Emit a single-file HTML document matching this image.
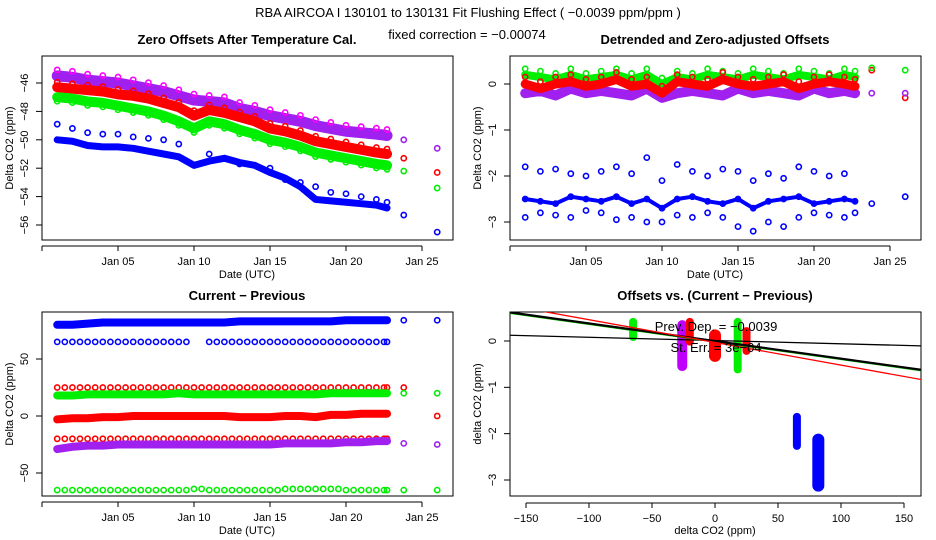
<!DOCTYPE html>
<html><head><meta charset="utf-8"><style>
html,body{margin:0;padding:0;background:#fff}
svg{display:block;font-family:"Liberation Sans",sans-serif}
</style></head><body>
<svg id="c" width="936" height="540" viewBox="0 0 936 540">
<rect width="936" height="540" fill="#fff"/>
<text x="468" y="17" text-anchor="middle" font-size="13">RBA   AIRCOA I   130101 to 130131   Fit Flushing Effect ( −0.0039 ppm/ppm )</text>
<text x="467" y="39" text-anchor="middle" font-size="13">fixed correction = −0.00074</text>
</svg>
<script>
const days=[1,2,3,4,5,6,7,8,9,10,11,12,13,14,15,16,17,18,19,20,21,22,22.7];
const extraDays=[23.8,26];
// Panel 1
const p1Magenta=[-45.5,-45.6,-45.8,-45.9,-46.0,-46.2,-46.4,-46.6,-46.9,-47.2,-47.3,-47.4,-47.8,-48.0,-48.3,-48.5,-48.7,-49.0,-49.2,-49.4,-49.5,-49.6,-49.7];
const p1Red=[-46.3,-46.4,-46.5,-46.6,-46.8,-46.9,-47.1,-47.4,-47.7,-48.3,-47.9,-48.1,-48.4,-48.7,-49.2,-49.4,-49.7,-50.1,-50.3,-50.5,-50.7,-50.9,-51.0];
const p1Green=[-47.0,-47.1,-47.3,-47.4,-47.6,-47.8,-48.0,-48.3,-48.7,-49.2,-48.7,-48.9,-49.3,-49.6,-50.0,-50.2,-50.5,-50.9,-51.1,-51.3,-51.5,-51.7,-51.8];
const p1BlueLow=[-50.0,-50.1,-50.4,-50.5,-50.5,-50.6,-50.8,-51.0,-51.2,-51.8,-51.5,-51.3,-51.6,-51.8,-52.3,-52.7,-53.3,-54.2,-54.3,-54.4,-54.5,-54.6,-54.8];
const p1BlueHigh=[-48.9,-49.2,-49.5,-49.6,-49.6,-49.8,-49.9,-50.0,-50.3,null,-51.0,-51.3,-51.7,-51.8,-52.0,-52.8,-53.0,-53.3,-53.7,-53.8,-54.0,-54.2,-54.4];
const p1ExtraMagenta=[-50.0,-50.6];
const p1ExtraRed=[-51.3,-52.3];
const p1ExtraGreen=[-52.2,-53.4];
const p1ExtraBlue=[-55.3,-56.5];
// Panel 2
const p2Red=[0.0,-0.1,0.0,0.05,-0.05,0.0,0.1,-0.05,0.0,-0.2,0.05,0.0,-0.05,0.1,0.0,-0.05,0.0,0.05,-0.1,0.0,0.05,0.0,-0.05];
const p2Green=[0.2,0.15,0.1,0.2,0.1,0.15,0.2,0.1,0.2,0.0,0.15,0.1,0.2,0.15,0.1,0.2,0.15,0.1,0.2,0.15,0.1,0.2,0.15];
const p2Magenta=[-0.2,-0.15,-0.25,-0.1,-0.2,-0.15,-0.2,-0.25,-0.1,-0.3,-0.2,-0.15,-0.2,-0.25,-0.1,-0.2,-0.15,-0.2,-0.25,-0.1,-0.2,-0.15,-0.2];
const p2Blue=[-2.5,-2.55,-2.6,-2.45,-2.5,-2.55,-2.45,-2.6,-2.5,-2.7,-2.5,-2.45,-2.55,-2.6,-2.5,-2.7,-2.55,-2.5,-2.45,-2.6,-2.55,-2.5,-2.55];
const p2BlueHigh=[-1.8,-1.9,-1.85,-1.95,-2.0,-1.9,-1.8,-1.95,-1.6,-2.1,-1.75,-1.9,-2.0,-1.85,-1.9,-2.1,-1.95,-2.05,-1.8,-1.9,-2.0,-1.95,null];
const p2BlueLow=[-2.9,-2.8,-2.85,-2.9,-2.75,-2.8,-2.95,-2.9,-3.0,-3.0,-2.85,-2.9,-2.8,-2.9,-3.1,-3.2,-3.0,-3.1,-2.9,-2.8,-2.85,-2.9,-2.8];
const p2ExtraRed=[0.3,-0.3];
const p2ExtraGreen=[0.35,0.3];
const p2ExtraMagenta=[-0.2,-0.2];
const p2ExtraBlue=[-2.6,-2.45];
// Panel 3
const p3Blue82=[80,80,81,82,82,82,82,82,82,82,82,82,83,83,83,83,83,83,83,84,84,84,84];
const p3Blue65=[65,65,65,65,65,65,65,65,65,null,65,65,65,65,65,65,65,65,65,65,65,65,65];
const p3Red25=[25,25,25,25,25,25,25,25,25,25,25,25,25,25,25,25,25,25,25,25,25,25,25];
const p3Green20=[18,18,19,19,19,19,19,19,20,19,19,19,19,19,19,19,19,19,20,20,20,20,20];
const p3Red0=[-3,-2,-2,-1,-1,0,0,0,0,0,0,0,-1,-1,-1,0,0,-1,1,1,2,2,2];
const p3RedM20=[-20,-20,-20,-20,-20,-20,-20,-20,-20,-20,-20,-20,-20,-20,-20,-20,-20,-20,-20,-20,-20,-20,-20];
const p3Magenta=[-29,-27,-26,-26,-25,-25,-25,-25,-25,-25,-25,-25,-25,-25,-25,-24,-24,-24,-24,-23,-23,-22,-22];
const p3GreenM65=[-65,-65,-65,-65,-65,-65,-65,-65,-65,-64,-65,-65,-65,-65,-65,-64,-64,-64,-64,-65,-65,-65,-65];
const p3ExtraBlue=[84,84];
const p3ExtraRed=[25,0];
const p3ExtraGreen=[20,20];
const p3ExtraMagenta=[-24,-25];
const p3ExtraGreenLow=[-65,-65];
// Panel 4
const clusterX=[-65,-26,-20,0,18,25,65,82];
const clusterTop=[0.5,0.45,0.5,0.25,0.5,0.3,-1.55,-2.0];
const clusterBottom=[0.0,-0.65,-0.1,-0.45,-0.7,-0.3,-2.35,-3.25];
const fitSlope=[-0.0007,-0.0038,-0.0049];
const fitIntercept=[0.01,0.0,-0.03];
const xTicks4=[-150,-100,-50,0,50,100,150];

const NS="http://www.w3.org/2000/svg";
const svg=document.getElementById('c');
function mk(tag,attrs,parent){const e=document.createElementNS(NS,tag);for(const k in attrs)e.setAttribute(k,attrs[k]);(parent||svg).appendChild(e);return e;}
const COL={m:'#a020f0',r:'#ff0000',g:'#00ee00',b:'#0000ff'};

function panel(ox,oy,ymin,ymax,yAtMax,yAtMin,ticks,title,xlab,ylab,dateAxis,name){
  const g=mk('g',{});
  
  
  const P={g,ox,sx:d=>ox+57.2+(d-1)*15.2,sy:v=>yAtMin+(v-ymin)*(yAtMax-yAtMin)/(ymax-ymin)};
  const t=mk('text',{x:ox+247,y:oy-12,'text-anchor':'middle','font-size':13,'font-weight':'bold'},g);t.textContent=title;
  
  
  const box=mk('rect',{x:ox+42,y:oy,width:411,height:184,fill:'none',stroke:'#000','stroke-width':1},g);
  
  
  ticks.forEach(v=>{const y=P.sy(v);mk('line',{x1:ox+42,x2:ox+36,y1:y,y2:y,stroke:'#000'},g);
    const tx=mk('text',{x:ox+28,y:y,'text-anchor':'middle','font-size':11,transform:`rotate(-90 ${ox+28} ${y})`},g);tx.textContent=String(v).replace('-','−');
    
    });
  const yl=mk('text',{x:ox+13,y:oy+92,'text-anchor':'middle','font-size':11,transform:`rotate(-90 ${ox+13} ${oy+92})`},g);yl.textContent=ylab;
  
  
  const xl=mk('text',{x:ox+247,y:oy+222,'text-anchor':'middle','font-size':11},g);xl.textContent=xlab;
  
  
  if(dateAxis){
    const yb=oy+184+6;mk('line',{x1:ox+42,x2:P.sx(25),y1:yb,y2:yb,stroke:'#000'},g);
    mk('line',{x1:ox+42,x2:ox+42,y1:yb,y2:yb+5,stroke:'#000'},g);
    [5,10,15,20,25].forEach(d=>{const x=P.sx(d);mk('line',{x1:x,x2:x,y1:yb,y2:yb+5,stroke:'#000'},g);
      const tx=mk('text',{x:x,y:yb+19,'text-anchor':'middle','font-size':11},g);tx.textContent='Jan '+String(d).padStart(2,'0');
      
      });
  }
  return P;
}
function band(P,xs,vals,col,w,name){
  let d='';let pen=false;
  vals.forEach((v,i)=>{if(v===null){pen=false;return;}d+=(pen?'L':'M')+P.sx(xs[i])+' '+P.sy(v);pen=true;});
  const p=mk('path',{d,fill:'none',stroke:col,'stroke-width':w,'stroke-linejoin':'round','stroke-linecap':'round'},P.g);
  
  
}
function pts(P,xs,vals,col,name,dy){
  vals.forEach((v,i)=>{if(v===null)return;
    const c=mk('circle',{cx:P.sx(xs[i]),cy:P.sy(v)+(dy||0),r:2.6,fill:'none',stroke:col,'stroke-width':1.6},P.g);
    
    });
}

// Panel 1
const P1=panel(0,56,-56,-46,83,225,[-46,-48,-50,-52,-54,-56],'Zero Offsets After Temperature Cal.','Date (UTC)','Delta CO2 (ppm)',true,'panel-zero-offsets');
band(P1,days,p1Magenta,COL.m,11,'magenta-series-band');pts(P1,days,p1Magenta,'#ff00ff','magenta-point',-6);
band(P1,days,p1Red,COL.r,10,'red-series-band');pts(P1,days,p1Red,COL.r,'red-point',-5);
band(P1,days,p1Green,COL.g,10,'green-series-band');pts(P1,days,p1Green,COL.g,'green-point',4);
band(P1,days,p1BlueLow,COL.b,7,'blue-low-band');pts(P1,days,p1BlueHigh,COL.b,'blue-high-point');
pts(P1,extraDays,p1ExtraMagenta,'#a020f0','magenta-extra-point');pts(P1,extraDays,p1ExtraRed,COL.r,'red-extra-point');
pts(P1,extraDays,p1ExtraGreen,COL.g,'green-extra-point');pts(P1,extraDays,p1ExtraBlue,COL.b,'blue-extra-point');

// Panel 2
const P2=panel(468,56,-3,0,84,222,[0,-1,-2,-3],'Detrended and Zero-adjusted Offsets','Date (UTC)','Delta CO2 (ppm)',true,'panel-detrended');
band(P2,days,p2Green,COL.g,8,'green-series-band');pts(P2,days,p2Green,COL.g,'green-point',-6);
band(P2,days,p2Magenta,COL.m,10,'magenta-series-band');
band(P2,days,p2Red,COL.r,9,'red-series-band');pts(P2,days,p2Red,COL.r,'red-point',-7);
band(P2,days,p2Blue,COL.b,4,'blue-series-band');pts(P2,days,p2Blue,COL.b,'blue-point');
pts(P2,days,p2BlueHigh,COL.b,'blue-high-point');pts(P2,days,p2BlueLow,COL.b,'blue-low-point');
pts(P2,extraDays,p2ExtraRed,COL.r,'red-extra-point');pts(P2,extraDays,p2ExtraGreen,COL.g,'green-extra-point');
pts(P2,extraDays,p2ExtraMagenta,'#a020f0','magenta-extra-point');pts(P2,extraDays,p2ExtraBlue,COL.b,'blue-extra-point');

// Panel 3
const P3=panel(0,312,-50,50,359,473,[50,0,-50],'Current − Previous','Date (UTC)','Delta CO2 (ppm)',true,'panel-current-previous');
band(P3,days,p3Blue82,COL.b,8,'blue-82-band');
pts(P3,days,p3Blue65,COL.b,'blue-65-point');pts(P3,days.map(d=>d+0.5).slice(0,22),p3Blue65.slice(0,22),COL.b,'blue-65-point');
pts(P3,days,p3Red25,COL.r,'red-25-point');pts(P3,days.map(d=>d+0.5).slice(0,22),p3Red25.slice(0,22),COL.r,'red-25-point');
band(P3,days,p3Green20,COL.g,8,'green-20-band');
band(P3,days,p3Red0,COL.r,8,'red-0-band');
pts(P3,days,p3RedM20,COL.r,'red-m20-point');pts(P3,days.map(d=>d+0.5).slice(0,22),p3RedM20.slice(0,22),COL.r,'red-m20-point');
band(P3,days,p3Magenta,COL.m,8,'magenta-band');
pts(P3,days,p3GreenM65,COL.g,'green-m65-point');pts(P3,days.map(d=>d+0.5).slice(0,22),p3GreenM65.slice(0,22),COL.g,'green-m65-point');
pts(P3,extraDays,p3ExtraBlue,COL.b,'blue-extra-point');pts(P3,extraDays,p3ExtraRed,COL.r,'red-extra-point');
pts(P3,extraDays,p3ExtraGreen,COL.g,'green-extra-point');pts(P3,extraDays,p3ExtraMagenta,'#a020f0','magenta-extra-point');
pts(P3,extraDays,p3ExtraGreenLow,COL.g,'green-low-extra-point');

// Panel 4
const P4=panel(468,312,-3,0,341,480,[0,-1,-2,-3],'Offsets vs. (Current − Previous)','delta CO2 (ppm)','delta CO2 (ppm)',false,'panel-offsets-vs-diff');
const sx4=v=>715+v*1.26;
{const yb=503;mk('line',{x1:sx4(-150),x2:sx4(150),y1:yb,y2:yb,stroke:'#000'},P4.g);
 xTicks4.forEach(v=>{const x=sx4(v);mk('line',{x1:x,x2:x,y1:yb,y2:yb+5,stroke:'#000'},P4.g);
  const tx=mk('text',{x:x,y:yb+19,'text-anchor':'middle','font-size':11},P4.g);tx.textContent=String(v).replace('-','−');
  
  });}
const cCols=[COL.g,'#c000ff',COL.r,COL.r,COL.g,COL.r,COL.b,COL.b];
clusterX.forEach((x,i)=>{const y1=P4.sy(clusterTop[i]),y2=P4.sy(clusterBottom[i]);const w=(i===7)?12:(i===1?10:(i===3?12:8));
  const r=mk('rect',{x:sx4(x)-w/2,y:y1,width:w,height:y2-y1,rx:w/2,fill:cCols[i]},P4.g);
  
  });
const clip=mk('clipPath',{id:'cp4'});mk('rect',{x:510,y:312,width:411,height:184},clip);
const fitCols=['#000','#000','#ff0000'];const fitW=[1.3,2.2,1.3];
fitSlope.forEach((s,i)=>{
  if(i===1){const gl=mk('line',{x1:sx4(-170),x2:sx4(170),y1:P4.sy(fitIntercept[i]+s*-170)+1,y2:P4.sy(fitIntercept[i]+s*170)+1,stroke:'#00cc00','stroke-width':1.2,'clip-path':'url(#cp4)'},P4.g);
    
    }
  const l=mk('line',{x1:sx4(-170),x2:sx4(170),y1:P4.sy(fitIntercept[i]+s*-170),y2:P4.sy(fitIntercept[i]+s*170),stroke:fitCols[i],'stroke-width':fitW[i],'clip-path':'url(#cp4)'},P4.g);
  
  });
const a1=mk('text',{x:716,y:331,'text-anchor':'middle','font-size':13},P4.g);a1.textContent='Prev. Dep. =  −0.0039';


const a2=mk('text',{x:716,y:352,'text-anchor':'middle','font-size':13},P4.g);a2.textContent='St. Err. =  3e−04';


</script>
</body></html>
